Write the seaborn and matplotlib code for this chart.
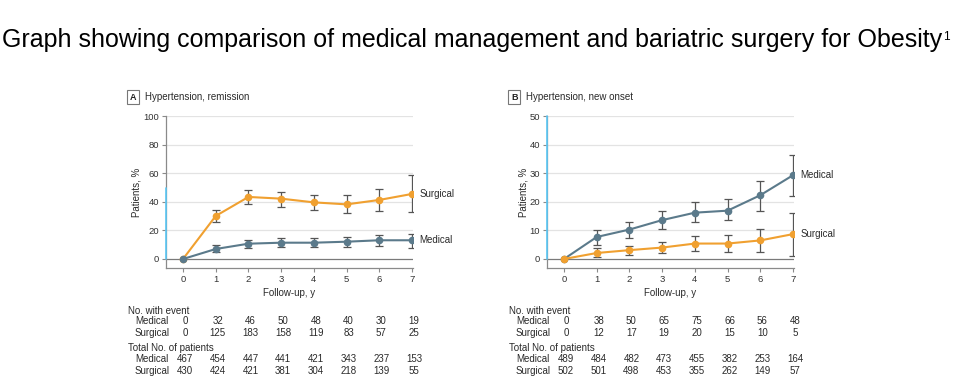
import numpy as np
import pandas as pd
import matplotlib
matplotlib.use("Agg")
import matplotlib.pyplot as plt
import matplotlib.transforms as mtransforms
import seaborn as sns

# Data
years = [0, 1, 2, 3, 4, 5, 6, 7]

# Panel A: hypertension remission (%)
remission_surgical = [0, 30.1, 43.4, 42.2, 39.6, 38.2, 41.3, 45.5]
remission_surgical_lo = [0, 26.1, 38.5, 36.4, 34.0, 31.9, 33.6, 32.6]
remission_surgical_hi = [0, 34.0, 48.3, 46.6, 44.5, 44.5, 48.7, 58.5]
remission_medical = [0, 7.0, 10.7, 11.4, 11.4, 12.1, 13.1, 13.1]
remission_medical_lo = [0, 4.9, 7.5, 8.6, 8.6, 8.6, 9.1, 7.5]
remission_medical_hi = [0, 9.6, 13.3, 14.7, 14.7, 15.6, 16.8, 17.7]

# Panel B: hypertension new onset (%)
onset_medical = [0, 7.7, 10.3, 13.6, 16.2, 16.9, 22.3, 29.3]
onset_medical_lo = [0, 5.0, 7.5, 10.5, 13.1, 13.5, 16.8, 21.9]
onset_medical_hi = [0, 10.0, 13.1, 16.8, 19.8, 21.0, 27.4, 36.2]
onset_surgical = [0, 2.1, 3.1, 4.0, 5.4, 5.4, 6.5, 8.7]
onset_surgical_lo = [0, 0.6, 1.5, 2.0, 2.9, 2.4, 2.6, 1.2]
onset_surgical_hi = [0, 3.7, 4.7, 5.9, 7.9, 8.3, 10.4, 16.1]

# Tables under the panels
remission_event_medical = [0, 32, 46, 50, 48, 40, 30, 19]
remission_event_surgical = [0, 125, 183, 158, 119, 83, 57, 25]
remission_total_medical = [467, 454, 447, 441, 421, 343, 237, 153]
remission_total_surgical = [430, 424, 421, 381, 304, 218, 139, 55]

onset_event_medical = [0, 38, 50, 65, 75, 66, 56, 48]
onset_event_surgical = [0, 12, 17, 19, 20, 15, 10, 5]
onset_total_medical = [489, 484, 482, 473, 455, 382, 253, 164]
onset_total_surgical = [502, 501, 498, 453, 355, 262, 149, 57]

ORANGE = "#F0A030"
SLATE = "#5B7A8B"
ERR = "#555555"
AXC = "#8a8a8a"
TXT = "#2a2a2a"

sns.set_theme(style="white")
plt.rcParams["font.family"] = ["Liberation Sans Narrow", "Liberation Sans", "DejaVu Sans"]

fig = plt.figure(figsize=(9.68, 3.85), dpi=100)

title = fig.text(2 / 968, 1 - 47 / 385,
                 "Graph showing comparison of medical management and bariatric surgery for Obesity",
                 fontsize=18, family=["Liberation Sans", "DejaVu Sans"], color="black",
                 va="baseline", ha="left")
renderer = fig.canvas.get_renderer()
tb = title.get_window_extent(renderer=renderer)
fig.text((tb.x1 + 1) / 968, 1 - 40 / 385, "1", fontsize=8.5,
         family=["Liberation Sans", "DejaVu Sans"], color="black", va="baseline", ha="left")


def draw_series(ax, y, lo, hi, color, name):
    df = pd.DataFrame({"year": years, "pct": y})
    sns.lineplot(data=df, x="year", y="pct", ax=ax, color=color, lw=1.5,
                 marker="o", markersize=5.5, markeredgewidth=0, zorder=4)
    y = np.array(y)
    err = [y - np.array(lo), np.array(hi) - y]
    ax.errorbar(years[1:], y[1:], yerr=[err[0][1:], err[1][1:]], fmt="none",
                ecolor=ERR, elinewidth=0.9, capsize=3.0, capthick=0.9, zorder=3)
    ax.annotate(name, xy=(7, y[-1]), xytext=(5.5, 0), textcoords="offset points",
                fontsize=7, color=TXT, va="center", ha="left")


def draw_panel(left, letter, title, ymax, yticks, series, tables):
    ax = fig.add_axes([left / 968, 1 - 268 / 385, 247 / 968, 152 / 385])
    bottom = -ymax * 9 / 143
    for y, lo, hi, color, name in series:
        draw_series(ax, y, lo, hi, color, name)
    ax.set_xlim(-0.52, 7.03)
    ax.set_ylim(bottom, ymax)
    ax.set_xticks(years)
    ax.set_yticks(yticks)
    for t in yticks[1:]:
        ax.axhline(t, color="#e3e3e3", lw=0.9, zorder=0)
    ax.axhline(0, color="#7a7a7a", lw=0.9, zorder=1)
    sns.despine(ax=ax)
    for s in ["left", "bottom"]:
        ax.spines[s].set_color(AXC)
        ax.spines[s].set_linewidth(0.9)
    # light blue stretch on the y axis seen in the reference
    ax.plot([-0.52, -0.52], [0, 50], color="#5BC8F5", lw=1.2, clip_on=False, zorder=5)
    ax.tick_params(axis="both", which="both", length=3, width=0.8, color=AXC,
                   labelsize=6.8, labelcolor="#333333", pad=2, bottom=True, left=True)
    ax.set_xlabel("Follow-up, y", fontsize=7, color=TXT, labelpad=3)
    ax.set_ylabel("Patients, %", fontsize=7, color=TXT, labelpad=1)

    # panel label box
    fig.text((left - 36) / 968, 1 - 97 / 385, letter, fontsize=6.5, fontweight="bold",
             color="#222222", va="center", ha="left",
             bbox=dict(boxstyle="square,pad=0.3", fc="white", ec="#777777", lw=0.8))
    fig.text((left - 21) / 968, 1 - 97 / 385, title, fontsize=7, color=TXT,
             va="center", ha="left")

    # risk table
    tr = mtransforms.blended_transform_factory(ax.transData, fig.transFigure)
    x0 = (left - 38) / 968
    fs = 7
    fig.text(x0, 1 - 311 / 385, "No. with event", fontsize=fs, color=TXT, va="center")
    fig.text(x0, 1 - 348 / 385, "Total No. of patients", fontsize=fs, color=TXT, va="center")
    rows = [("Medical", 321, tables[0]), ("Surgical", 333, tables[1]),
            ("Medical", 359, tables[2]), ("Surgical", 371, tables[3])]
    for name, ypx, vals in rows:
        fig.text(x0 + 7 / 968, 1 - ypx / 385, name, fontsize=fs, color=TXT, va="center")
        for xv, v in zip(years, vals):
            ax.text(xv + 0.06, 1 - ypx / 385, str(v), transform=tr, fontsize=fs,
                    color=TXT, va="center", ha="center")
    return ax


draw_panel(166, "A", "Hypertension, remission", 100, [0, 20, 40, 60, 80, 100],
           [(remission_surgical, remission_surgical_lo, remission_surgical_hi, ORANGE, "Surgical"),
            (remission_medical, remission_medical_lo, remission_medical_hi, SLATE, "Medical")],
           [remission_event_medical, remission_event_surgical,
            remission_total_medical, remission_total_surgical])

draw_panel(547, "B", "Hypertension, new onset", 50, [0, 10, 20, 30, 40, 50],
           [(onset_medical, onset_medical_lo, onset_medical_hi, SLATE, "Medical"),
            (onset_surgical, onset_surgical_lo, onset_surgical_hi, ORANGE, "Surgical")],
           [onset_event_medical, onset_event_surgical,
            onset_total_medical, onset_total_surgical])

fig.savefig("out.png", dpi=100)
